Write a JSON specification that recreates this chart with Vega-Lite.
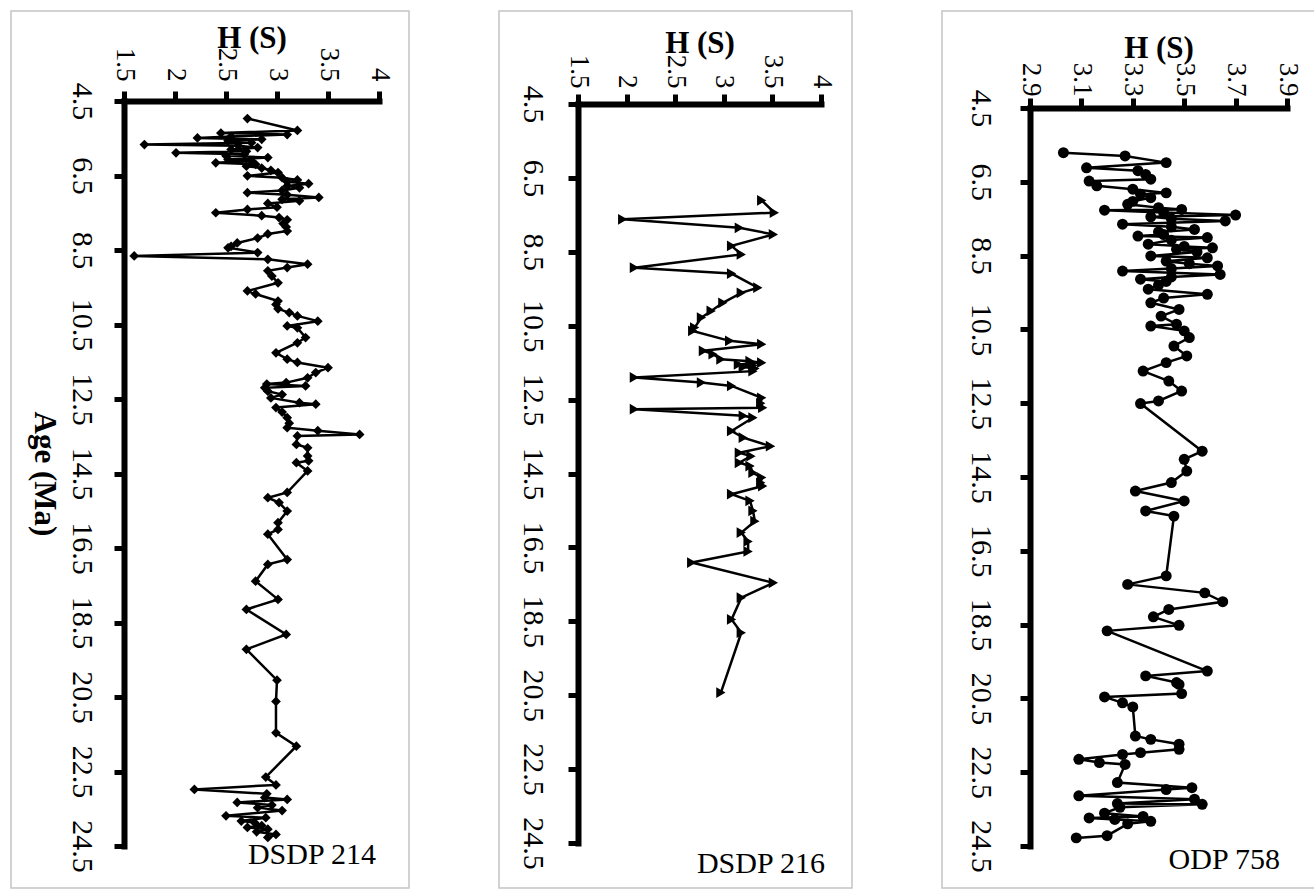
{
  "$schema": "https://vega.github.io/schema/vega-lite/v6.json",
  "padding": {"left": 10, "top": 10, "right": 0, "bottom": 0},
  "spacing": 88,
  "background": "white",
  "datasets": {
    "d214": [
      {"age":4.97,"h":2.71},{"age":5.29,"h":3.20},{"age":5.36,"h":2.45},{"age":5.40,"h":3.10},{"age":5.45,"h":2.55},{"age":5.49,"h":2.22},{"age":5.53,"h":2.85},{"age":5.57,"h":2.52},{"age":5.62,"h":2.75},{"age":5.67,"h":1.70},{"age":5.70,"h":2.62},{"age":5.75,"h":2.81},{"age":5.80,"h":2.55},{"age":5.85,"h":2.70},{"age":5.89,"h":2.01},{"age":5.93,"h":2.68},{"age":5.97,"h":2.50},{"age":6.02,"h":2.91},{"age":6.07,"h":2.52},{"age":6.11,"h":2.75},{"age":6.16,"h":2.40},{"age":6.20,"h":2.79},{"age":6.25,"h":2.70},{"age":6.30,"h":2.85},{"age":6.36,"h":2.94},{"age":6.42,"h":3.01},{"age":6.51,"h":2.71},{"age":6.56,"h":3.05},{"age":6.62,"h":3.20},{"age":6.67,"h":3.10},{"age":6.72,"h":3.31},{"age":6.78,"h":3.10},{"age":6.83,"h":3.22},{"age":6.90,"h":3.05},{"age":6.96,"h":2.71},{"age":7.02,"h":3.10},{"age":7.09,"h":3.41},{"age":7.14,"h":3.05},{"age":7.18,"h":3.22},{"age":7.25,"h":2.91},{"age":7.35,"h":3.00},{"age":7.41,"h":2.71},{"age":7.50,"h":2.40},{"age":7.58,"h":2.85},{"age":7.63,"h":3.02},{"age":7.69,"h":3.10},{"age":7.79,"h":3.06},{"age":7.88,"h":3.09},{"age":7.99,"h":3.10},{"age":8.07,"h":2.91},{"age":8.18,"h":2.81},{"age":8.31,"h":2.61},{"age":8.40,"h":2.55},{"age":8.44,"h":2.52},{"age":8.57,"h":2.81},{"age":8.66,"h":1.60},{"age":8.75,"h":2.91},{"age":8.88,"h":3.30},{"age":8.97,"h":3.10},{"age":9.06,"h":2.91},{"age":9.20,"h":2.95},{"age":9.38,"h":3.01},{"age":9.60,"h":2.71},{"age":9.68,"h":2.79},{"age":9.87,"h":3.01},{"age":9.96,"h":2.99},{"age":10.08,"h":3.01},{"age":10.18,"h":3.12},{"age":10.27,"h":3.20},{"age":10.41,"h":3.40},{"age":10.54,"h":3.10},{"age":10.59,"h":3.20},{"age":10.85,"h":3.28},{"age":10.99,"h":3.20},{"age":11.26,"h":2.99},{"age":11.43,"h":3.10},{"age":11.52,"h":3.20},{"age":11.66,"h":3.50},{"age":11.79,"h":3.38},{"age":11.93,"h":3.30},{"age":12.06,"h":3.09},{"age":12.10,"h":2.90},{"age":12.15,"h":3.28},{"age":12.20,"h":2.88},{"age":12.29,"h":2.91},{"age":12.38,"h":3.05},{"age":12.47,"h":2.94},{"age":12.60,"h":3.22},{"age":12.64,"h":3.38},{"age":12.73,"h":2.99},{"age":12.85,"h":3.05},{"age":13.00,"h":3.10},{"age":13.15,"h":3.12},{"age":13.27,"h":3.10},{"age":13.35,"h":3.40},{"age":13.45,"h":3.81},{"age":13.49,"h":3.20},{"age":13.72,"h":3.19},{"age":13.81,"h":3.30},{"age":14.03,"h":3.30},{"age":14.16,"h":3.31},{"age":14.21,"h":3.19},{"age":14.43,"h":3.30},{"age":15.01,"h":3.10},{"age":15.15,"h":2.91},{"age":15.28,"h":3.02},{"age":15.51,"h":3.10},{"age":15.82,"h":3.01},{"age":16.00,"h":3.01},{"age":16.13,"h":2.91},{"age":16.81,"h":3.10},{"age":16.94,"h":2.91},{"age":17.39,"h":2.79},{"age":17.88,"h":3.01},{"age":18.15,"h":2.70},{"age":18.82,"h":3.09},{"age":19.22,"h":2.70},{"age":20.05,"h":3.00},{"age":20.62,"h":2.99},{"age":21.46,"h":2.99},{"age":21.82,"h":3.19},{"age":22.65,"h":2.89},{"age":22.86,"h":2.99},{"age":22.98,"h":2.19},{"age":23.10,"h":2.90},{"age":23.20,"h":2.88},{"age":23.25,"h":3.10},{"age":23.33,"h":2.61},{"age":23.40,"h":2.95},{"age":23.47,"h":2.81},{"age":23.55,"h":3.05},{"age":23.69,"h":2.50},{"age":23.74,"h":2.89},{"age":23.83,"h":2.65},{"age":23.87,"h":2.78},{"age":23.95,"h":2.85},{"age":24.00,"h":2.71},{"age":24.05,"h":2.91},{"age":24.12,"h":2.80},{"age":24.19,"h":2.99},{"age":24.27,"h":2.91}
    ],
    "d216": [
      {"age":7.11,"h":3.39},{"age":7.44,"h":3.52},{"age":7.62,"h":1.96},{"age":7.85,"h":3.16},{"age":8.03,"h":3.51},{"age":8.34,"h":3.08},{"age":8.57,"h":3.18},{"age":8.93,"h":2.08},{"age":9.09,"h":3.08},{"age":9.47,"h":3.35},{"age":9.61,"h":3.18},{"age":9.88,"h":2.99},{"age":10.10,"h":2.87},{"age":10.28,"h":2.77},{"age":10.55,"h":2.70},{"age":10.64,"h":2.68},{"age":10.91,"h":3.06},{"age":11.00,"h":3.39},{"age":11.18,"h":2.79},{"age":11.27,"h":2.89},{"age":11.41,"h":2.97},{"age":11.46,"h":3.27},{"age":11.50,"h":3.39},{"age":11.55,"h":3.15},{"age":11.58,"h":3.30},{"age":11.62,"h":3.20},{"age":11.66,"h":3.32},{"age":11.73,"h":3.30},{"age":11.90,"h":2.08},{"age":12.04,"h":2.77},{"age":12.13,"h":3.08},{"age":12.45,"h":3.39},{"age":12.60,"h":3.38},{"age":12.72,"h":3.40},{"age":12.76,"h":2.08},{"age":12.94,"h":3.20},{"age":12.99,"h":3.30},{"age":13.35,"h":3.08},{"age":13.53,"h":3.20},{"age":13.76,"h":3.48},{"age":13.94,"h":3.16},{"age":14.03,"h":3.28},{"age":14.21,"h":3.16},{"age":14.30,"h":3.27},{"age":14.48,"h":3.30},{"age":14.61,"h":3.39},{"age":14.75,"h":3.38},{"age":14.84,"h":3.40},{"age":15.06,"h":3.08},{"age":15.24,"h":3.27},{"age":15.51,"h":3.30},{"age":15.79,"h":3.32},{"age":16.10,"h":3.18},{"age":16.34,"h":3.25},{"age":16.61,"h":3.25},{"age":16.91,"h":2.67},{"age":17.46,"h":3.51},{"age":17.86,"h":3.18},{"age":18.45,"h":3.08},{"age":18.81,"h":3.18},{"age":20.43,"h":2.97}
    ],
    "o758": [
      {"age":5.71,"h":3.03},{"age":5.80,"h":3.27},{"age":5.98,"h":3.43},{"age":6.12,"h":3.12},{"age":6.20,"h":3.32},{"age":6.30,"h":3.35},{"age":6.43,"h":3.37},{"age":6.48,"h":3.13},{"age":6.61,"h":3.16},{"age":6.70,"h":3.30},{"age":6.80,"h":3.43},{"age":6.84,"h":3.33},{"age":6.93,"h":3.37},{"age":7.03,"h":3.30},{"age":7.11,"h":3.28},{"age":7.20,"h":3.40},{"age":7.25,"h":3.49},{"age":7.27,"h":3.19},{"age":7.33,"h":3.42},{"age":7.40,"h":3.70},{"age":7.45,"h":3.37},{"age":7.50,"h":3.45},{"age":7.56,"h":3.66},{"age":7.65,"h":3.26},{"age":7.72,"h":3.45},{"age":7.79,"h":3.54},{"age":7.86,"h":3.40},{"age":7.93,"h":3.42},{"age":7.97,"h":3.32},{"age":8.01,"h":3.59},{"age":8.08,"h":3.45},{"age":8.19,"h":3.36},{"age":8.25,"h":3.50},{"age":8.29,"h":3.61},{"age":8.33,"h":3.47},{"age":8.40,"h":3.55},{"age":8.51,"h":3.37},{"age":8.56,"h":3.59},{"age":8.65,"h":3.43},{"age":8.72,"h":3.52},{"age":8.78,"h":3.63},{"age":8.85,"h":3.45},{"age":8.92,"h":3.26},{"age":9.01,"h":3.64},{"age":9.08,"h":3.45},{"age":9.14,"h":3.33},{"age":9.20,"h":3.43},{"age":9.30,"h":3.40},{"age":9.41,"h":3.36},{"age":9.55,"h":3.59},{"age":9.65,"h":3.42},{"age":9.78,"h":3.37},{"age":9.96,"h":3.48},{"age":10.14,"h":3.41},{"age":10.36,"h":3.47},{"age":10.41,"h":3.37},{"age":10.54,"h":3.50},{"age":10.72,"h":3.52},{"age":10.95,"h":3.46},{"age":11.22,"h":3.51},{"age":11.40,"h":3.43},{"age":11.63,"h":3.34},{"age":11.90,"h":3.44},{"age":12.17,"h":3.49},{"age":12.44,"h":3.40},{"age":12.51,"h":3.33},{"age":13.80,"h":3.57},{"age":14.02,"h":3.50},{"age":14.34,"h":3.51},{"age":14.65,"h":3.45},{"age":14.88,"h":3.31},{"age":15.15,"h":3.50},{"age":15.42,"h":3.35},{"age":15.56,"h":3.46},{"age":17.18,"h":3.43},{"age":17.41,"h":3.28},{"age":17.64,"h":3.58},{"age":17.88,"h":3.65},{"age":18.09,"h":3.44},{"age":18.29,"h":3.38},{"age":18.52,"h":3.48},{"age":18.67,"h":3.20},{"age":19.76,"h":3.59},{"age":19.89,"h":3.35},{"age":20.07,"h":3.47},{"age":20.12,"h":3.48},{"age":20.37,"h":3.49},{"age":20.46,"h":3.19},{"age":20.62,"h":3.26},{"age":20.73,"h":3.30},{"age":21.52,"h":3.31},{"age":21.61,"h":3.37},{"age":21.74,"h":3.48},{"age":21.88,"h":3.48},{"age":21.97,"h":3.33},{"age":22.02,"h":3.26},{"age":22.15,"h":3.09},{"age":22.24,"h":3.17},{"age":22.29,"h":3.27},{"age":22.78,"h":3.24},{"age":22.92,"h":3.53},{"age":22.97,"h":3.43},{"age":23.14,"h":3.09},{"age":23.23,"h":3.54},{"age":23.35,"h":3.24},{"age":23.37,"h":3.57},{"age":23.45,"h":3.25},{"age":23.61,"h":3.19},{"age":23.70,"h":3.34},{"age":23.74,"h":3.13},{"age":23.78,"h":3.23},{"age":23.83,"h":3.37},{"age":23.90,"h":3.28},{"age":24.22,"h":3.20},{"age":24.28,"h":3.08}
    ]
  },
  "hconcat": [
    {
      "width": 398, "height": 877,
      "layer": [
        {
          "data": {"name": "d214"},
          "mark": {"type": "line", "color": "black", "strokeWidth": 2.5, "point": {"shape": "diamond", "filled": true, "size": 95, "color": "black"}},
          "encoding": {
            "x": {"field": "h", "type": "quantitative", "scale": {"domain": [1.5, 4], "range": [113, 368], "nice": false, "zero": false},
                  "axis": {"orient": "top", "offset": -90, "values": [1.5, 2, 2.5, 3, 3.5, 4], "format": "~g", "title": "H (S)", "labelPadding": 10, "titlePadding": 0}},
            "y": {"field": "age", "type": "quantitative", "scale": {"domain": [4.5, 24.5], "range": [90, 835], "nice": false, "zero": false},
                  "axis": {"orient": "left", "offset": -113, "values": [4.5, 6.5, 8.5, 10.5, 12.5, 14.5, 16.5, 18.5, 20.5, 22.5, 24.5], "format": ".1f", "title": "Age (Ma)", "labelPadding": 18, "titlePadding": 8}},
            "order": {"field": "age", "type": "quantitative"}
          }
        },
        {
          "data": {"values": [{"site": "DSDP 214"}]},
          "mark": {"type": "text", "align": "right", "baseline": "alphabetic", "dx": -3, "dy": 18, "font": "Liberation Serif, Times New Roman, DejaVu Serif, serif", "fontSize": 30, "color": "black"},
          "encoding": {"x": {"datum": 4, "type": "quantitative"}, "y": {"datum": 24.5, "type": "quantitative"}, "text": {"field": "site"}}
        }
      ]
    },
    {
      "width": 353, "height": 877,
      "layer": [
        {
          "data": {"name": "d216"},
          "mark": {"type": "line", "color": "black", "strokeWidth": 2.5, "point": {"shape": "triangle-right", "filled": true, "size": 115, "color": "black"}},
          "encoding": {
            "x": {"field": "h", "type": "quantitative", "scale": {"domain": [1.5, 4], "range": [79, 322], "nice": false, "zero": false},
                  "axis": {"orient": "top", "offset": -93, "values": [1.5, 2, 2.5, 3, 3.5, 4], "format": "~g", "title": "H (S)", "labelPadding": 6, "titlePadding": 2}},
            "y": {"field": "age", "type": "quantitative", "scale": {"domain": [4.5, 24.5], "range": [93, 832], "nice": false, "zero": false},
                  "axis": {"orient": "left", "offset": -79, "values": [4.5, 6.5, 8.5, 10.5, 12.5, 14.5, 16.5, 18.5, 20.5, 22.5, 24.5], "format": ".1f", "title": null, "labelPadding": 21}},
            "order": {"field": "age", "type": "quantitative"}
          }
        },
        {
          "data": {"values": [{"site": "DSDP 216"}]},
          "mark": {"type": "text", "align": "right", "baseline": "alphabetic", "dx": 4, "dy": 30, "font": "Liberation Serif, Times New Roman, DejaVu Serif, serif", "fontSize": 30, "color": "black"},
          "encoding": {"x": {"datum": 4, "type": "quantitative"}, "y": {"datum": 24.5, "type": "quantitative"}, "text": {"field": "site"}}
        }
      ]
    },
    {
      "width": 375, "height": 877,
      "layer": [
        {
          "data": {"name": "o758"},
          "mark": {"type": "line", "color": "black", "strokeWidth": 2.5, "point": {"shape": "circle", "filled": true, "size": 120, "color": "black"}},
          "encoding": {
            "x": {"field": "h", "type": "quantitative", "scale": {"domain": [2.9, 3.9], "range": [88, 345], "nice": false, "zero": false},
                  "axis": {"orient": "top", "offset": -97, "values": [2.9, 3.1, 3.3, 3.5, 3.7, 3.9], "format": ".1f", "title": "H (S)", "labelPadding": 2, "titlePadding": 5}},
            "y": {"field": "age", "type": "quantitative", "scale": {"domain": [4.5, 24.5], "range": [97, 835], "nice": false, "zero": false},
                  "axis": {"orient": "left", "offset": -88, "values": [4.5, 6.5, 8.5, 10.5, 12.5, 14.5, 16.5, 18.5, 20.5, 22.5, 24.5], "format": ".1f", "title": null, "labelPadding": 25}},
            "order": {"field": "age", "type": "quantitative"}
          }
        },
        {
          "data": {"values": [{"site": "ODP 758"}]},
          "mark": {"type": "text", "align": "right", "baseline": "alphabetic", "dx": -7, "dy": 23, "font": "Liberation Serif, Times New Roman, DejaVu Serif, serif", "fontSize": 30, "color": "black"},
          "encoding": {"x": {"datum": 3.9, "type": "quantitative"}, "y": {"datum": 24.5, "type": "quantitative"}, "text": {"field": "site"}}
        }
      ]
    }
  ],
  "config": {
    "view": {"stroke": "#c4c4c4", "strokeWidth": 1.5},
    "axis": {
      "domainColor": "black", "domainWidth": 6, "domainCap": "square",
      "tickColor": "black", "tickWidth": 5, "tickSize": 10, "grid": false,
      "labelFont": "Liberation Serif, Times New Roman, DejaVu Serif, serif", "labelColor": "black",
      "titleFont": "Liberation Serif, Times New Roman, DejaVu Serif, serif", "titleFontSize": 31, "titleFontWeight": "bold", "titleColor": "black",
      "labelFlush": false, "labelOverlap": false
    },
    "axisX": {"labelAngle": 90, "labelAlign": "right", "labelBaseline": "middle", "labelFontSize": 27, "titleAngle": 0, "titleBaseline": "alphabetic"},
    "axisY": {"labelAngle": 90, "labelAlign": "center", "labelBaseline": "top", "labelFontSize": 30, "titleAngle": 90, "titleBaseline": "top"}
  }
}
